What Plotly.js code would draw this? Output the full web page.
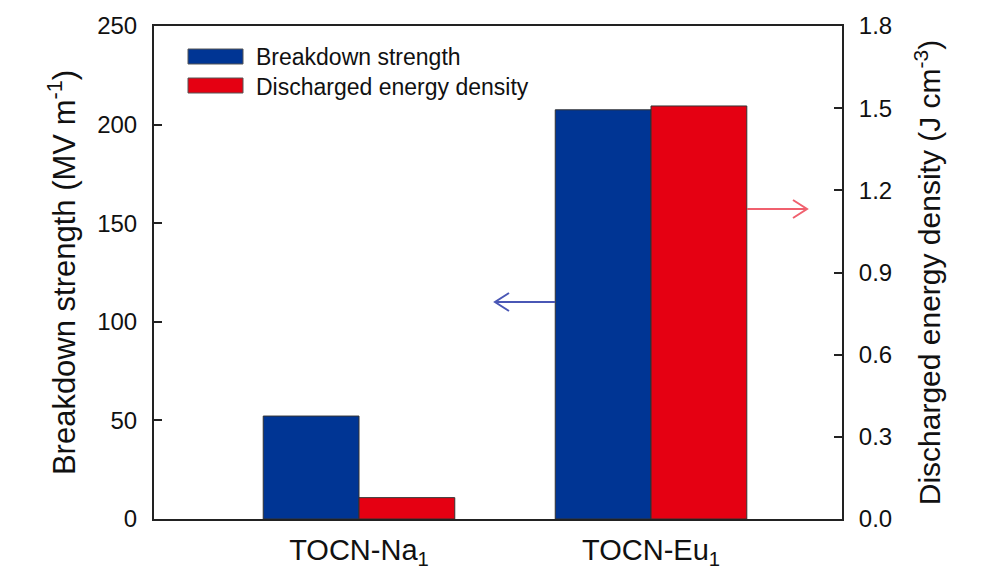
<!DOCTYPE html>
<html>
<head>
<meta charset="utf-8">
<script src="https://cdn.plot.ly/plotly-3.0.1.min.js"></script>
<style>html,body{margin:0;padding:0;background:#fff;}#chart{width:1000px;height:587px;}</style>
</head>
<body>
<div id="chart"></div>
<script>
const categories = ["TOCN-Na<sub>1</sub>", "TOCN-Eu<sub>1</sub>"];
const breakdownStrength = [52.2, 207.5];      // MV m^-1 (left axis)
const dischargedEnergy = [0.078, 1.508];      // J cm^-3 (right axis)
const seriesNames = ["Breakdown strength", "Discharged energy density"];
const leftTicks = [0, 50, 100, 150, 200, 250];
const rightTicks = [0.0, 0.3, 0.6, 0.9, 1.2, 1.5, 1.8];

const FONT = "Liberation Sans, Arial, sans-serif";
const BLUE = "#003594";
const RED = "#e50012";
const xIdx = categories.map((c, i) => i);
const W = 0.328;

// plot-area pixel helpers for decorations (legend swatches, arrows)
const PL = 154, PW = 688, PB = 519, PH = 493;
const px = v => (v - PL) / PW;
const py = v => (PB - v) / PH;

const traces = [
  {
    type: "bar", name: seriesNames[0], x: xIdx, y: breakdownStrength,
    width: W, offset: -W, yaxis: "y",
    marker: {color: BLUE, line: {color: "#333", width: 1}},
    showlegend: false, hoverinfo: "skip"
  },
  {
    type: "bar", name: seriesNames[1], x: xIdx, y: dischargedEnergy,
    width: W, offset: 0, yaxis: "y2",
    marker: {color: RED, line: {color: "#333", width: 1}},
    showlegend: false, hoverinfo: "skip"
  }
];

function arrowPath(tipX, tailX, y, dir) {
  // dir = -1 points left, +1 points right
  const back = tipX - dir * 14;
  return `M ${px(tailX)} ${py(y)} L ${px(tipX)} ${py(y)} ` +
         `M ${px(back)} ${py(y - 9)} L ${px(tipX)} ${py(y)} L ${px(back)} ${py(y + 9)}`;
}

const layout = {
  width: 1000, height: 587,
  margin: {l: 154, r: 158, t: 26, b: 68},
  paper_bgcolor: "#fff", plot_bgcolor: "#fff",
  font: {family: FONT, color: "#111", size: 22},
  showlegend: false,
  xaxis: {
    range: [-0.702, 1.654],
    tickmode: "array", tickvals: xIdx, ticktext: categories,
    tickfont: {size: 29, family: FONT},
    ticks: "", showgrid: false, zeroline: false,
    showline: true, linecolor: "#222", linewidth: 2, mirror: true,
    ticklabelstandoff: 4
  },
  yaxis: {
    range: [0, 250],
    tickmode: "array", tickvals: leftTicks,
    tickfont: {size: 24, family: FONT},
    ticks: "inside", ticklen: 8, tickwidth: 2, tickcolor: "#222",
    showgrid: false, zeroline: false,
    showline: true, linecolor: "#222", linewidth: 2,
    ticklabelstandoff: 10,
    title: {text: "Breakdown strength (MV m<sup>-1</sup>)", font: {size: 31, family: FONT}, standoff: 12}
  },
  yaxis2: {
    range: [0, 1.8], overlaying: "y", side: "right",
    tickmode: "array", tickvals: rightTicks, ticktext: rightTicks.map(v => v.toFixed(1)),
    tickfont: {size: 24, family: FONT},
    ticks: "inside", ticklen: 8, tickwidth: 2, tickcolor: "#222",
    showgrid: false, zeroline: false,
    showline: true, linecolor: "#222", linewidth: 2,
    ticklabelstandoff: 10,
    title: {text: "Discharged energy density (J cm<sup>-3</sup>)", font: {size: 30, family: FONT}, standoff: 28}
  },
  shapes: [
    {type: "rect", xref: "paper", yref: "paper",
     x0: px(188), x1: px(243), y0: py(64), y1: py(49),
     fillcolor: BLUE, line: {color: "#555", width: 1}},
    {type: "rect", xref: "paper", yref: "paper",
     x0: px(188), x1: px(243), y0: py(93), y1: py(78),
     fillcolor: RED, line: {color: "#555", width: 1}},
    {type: "path", xref: "paper", yref: "paper", path: arrowPath(495, 555, 302, -1),
     line: {color: "#4a57b5", width: 2}},
    {type: "path", xref: "paper", yref: "paper", path: arrowPath(807, 747, 209, 1),
     line: {color: "#f0606e", width: 2}}
  ],
  annotations: [
    {xref: "paper", yref: "paper", x: px(254), y: py(57), xanchor: "left", yanchor: "middle",
     text: seriesNames[0], showarrow: false, font: {size: 23, family: FONT, color: "#111"}},
    {xref: "paper", yref: "paper", x: px(254), y: py(87), xanchor: "left", yanchor: "middle",
     text: seriesNames[1], showarrow: false, font: {size: 23, family: FONT, color: "#111"}}
  ]
};

Plotly.newPlot("chart", traces, layout, {staticPlot: true, displayModeBar: false});
</script>
</body>
</html>
